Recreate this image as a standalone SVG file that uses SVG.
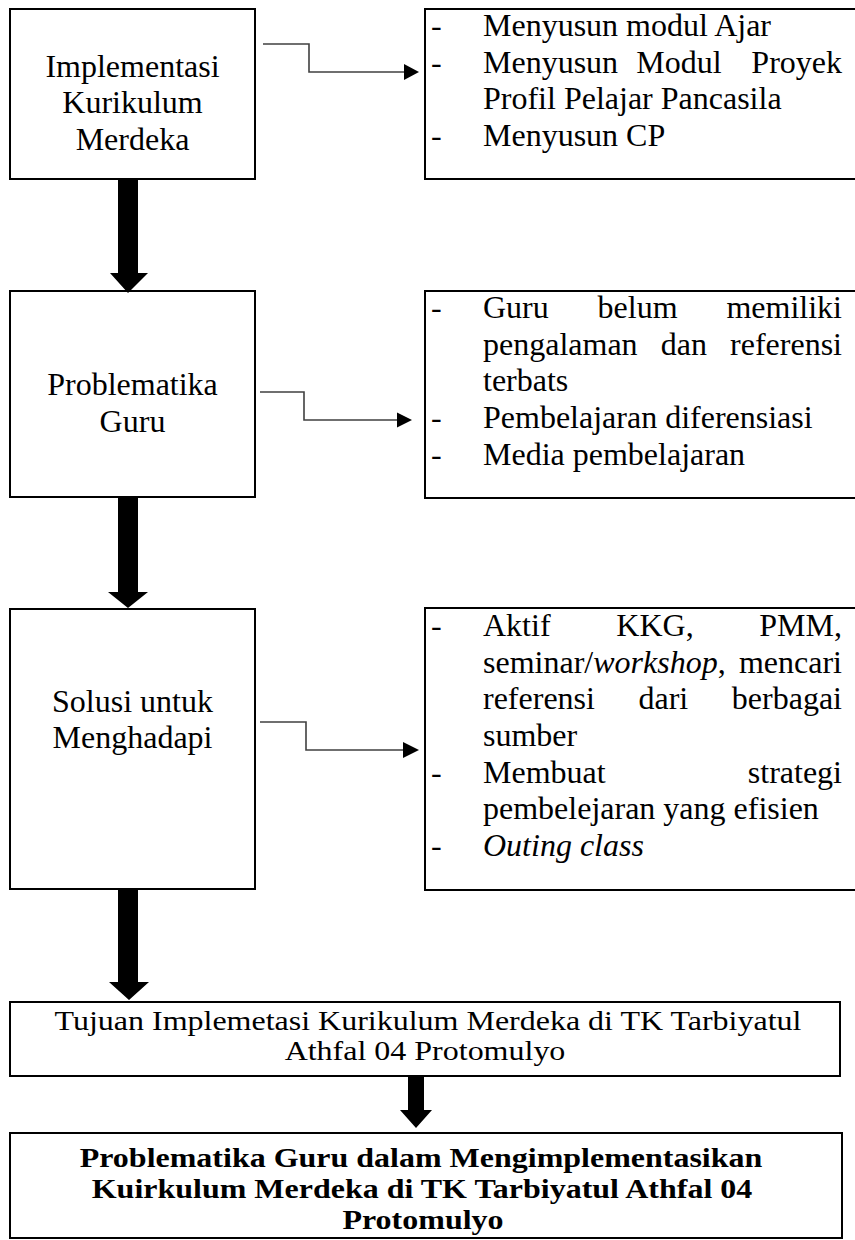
<svg xmlns="http://www.w3.org/2000/svg" width="855" height="1240" viewBox="0 0 855 1240">
<style>
.box{fill:#fff;stroke:#000;stroke-width:2}
text{font-family:"Liberation Serif","Times New Roman",serif;font-size:32px;fill:#000}
.c{text-anchor:middle}
.e{text-anchor:end}
.b{font-weight:bold}
.i{font-style:italic}
.thin{fill:none;stroke:#404040;stroke-width:1.6}
.head{fill:#000}
</style>
<rect width="855" height="1240" fill="#fff"/>
<g id="n1">
<rect class="box" x="10" y="9" width="245" height="170"/>
<text class="c" x="132.5" y="77">Implementasi</text>
<text class="c" x="132.5" y="113">Kurikulum</text>
<text class="c" x="132.5" y="150">Merdeka</text>
</g>
<g id="n1r">
<rect class="box" x="425" y="9" width="440" height="170"/>
<text x="431" y="36">-</text><text x="483" y="36">Menyusun modul Ajar</text>
<text x="431" y="73">-</text><text x="483" y="73">Menyusun</text><text class="c" x="679" y="73">Modul</text><text class="e" x="842" y="73">Proyek</text>
<text x="483" y="109">Profil Pelajar Pancasila</text>
<text x="431" y="146">-</text><text x="483" y="146">Menyusun CP</text>
</g>
<g id="n2">
<rect class="box" x="10" y="291" width="245" height="206"/>
<text class="c" x="132.5" y="395">Problematika</text>
<text class="c" x="132.5" y="432">Guru</text>
</g>
<g id="n2r">
<rect class="box" x="425" y="291" width="440" height="207"/>
<text x="431" y="318">-</text><text x="483" y="318">Guru</text><text x="597.6" y="318">belum</text><text class="e" x="842" y="318">memiliki</text>
<text x="483" y="355">pengalaman</text><text x="660.7" y="355">dan</text><text class="e" x="842" y="355">referensi</text>
<text x="483" y="391">terbats</text>
<text x="431" y="428">-</text><text x="483" y="428">Pembelajaran diferensiasi</text>
<text x="431" y="465">-</text><text x="483" y="465">Media pembelajaran</text>
</g>
<g id="n3">
<rect class="box" x="10" y="609" width="245" height="280"/>
<text class="c" x="132.5" y="712">Solusi untuk</text>
<text class="c" x="132.5" y="748">Menghadapi</text>
</g>
<g id="n3r">
<rect class="box" x="425" y="608" width="440" height="282"/>
<text x="431" y="636">-</text><text x="483" y="636">Aktif</text><text x="616.3" y="636">KKG,</text><text class="e" x="842" y="636">PMM,</text>
<text x="483" y="673">seminar/<tspan class="i">workshop</tspan>,</text><text class="e" x="842" y="673">mencari</text>
<text x="483" y="709">referensi</text><text x="638.5" y="709">dari</text><text class="e" x="842" y="709">berbagai</text>
<text x="483" y="746">sumber</text>
<text x="431" y="783">-</text><text x="483" y="783">Membuat</text><text class="e" x="842" y="783">strategi</text>
<text x="483" y="819">pembelejaran yang efisien</text>
<text x="431" y="856">-</text><text class="i" x="483" y="856">Outing class</text>
</g>
<g id="n4">
<rect class="box" x="10" y="1002" width="830" height="74"/>
<text class="c" transform="translate(428,1030) scale(1,0.86)" x="0" y="0">Tujuan Implemetasi Kurikulum Merdeka di TK Tarbiyatul</text>
<text class="c" transform="translate(425,1060) scale(1,0.86)" x="0" y="0">Athfal 04 Protomulyo</text>
</g>
<g id="n5">
<rect class="box" x="10" y="1133" width="832" height="105"/>
<text class="c b" transform="translate(421,1167) scale(1,0.86)" x="0" y="0">Problematika Guru dalam Mengimplementasikan</text>
<text class="c b" transform="translate(422,1198) scale(1,0.86)" x="0" y="0">Kuirkulum Merdeka di TK Tarbiyatul Athfal 04</text>
<text class="c b" transform="translate(423,1229) scale(1,0.86)" x="0" y="0">Protomulyo</text>
</g>
<g id="connectors">
<path class="thin" d="M263,44 H309 V72 H405"/>
<polygon class="head" points="404,64 419,72 404,80"/>
<path class="thin" d="M260,392 H304 V420 H398"/>
<polygon class="head" points="397,412.5 412,420 397,427.5"/>
<path class="thin" d="M260,722 H306 V750 H404"/>
<polygon class="head" points="403,742 419,750 403,758"/>
<polygon class="head" points="118,179 138,179 138,273 148,273 128,293 110,273 118,273"/>
<polygon class="head" points="118,497 138,497 138,592 148,592 128,608 108,592 118,592"/>
<polygon class="head" points="118,889 138,889 138,982 149,982 129,1000 109,982 118,982"/>
<polygon class="head" points="408,1076 424,1076 424,1110 432,1110 416,1128 400,1110 408,1110"/>
</g>
</svg>
